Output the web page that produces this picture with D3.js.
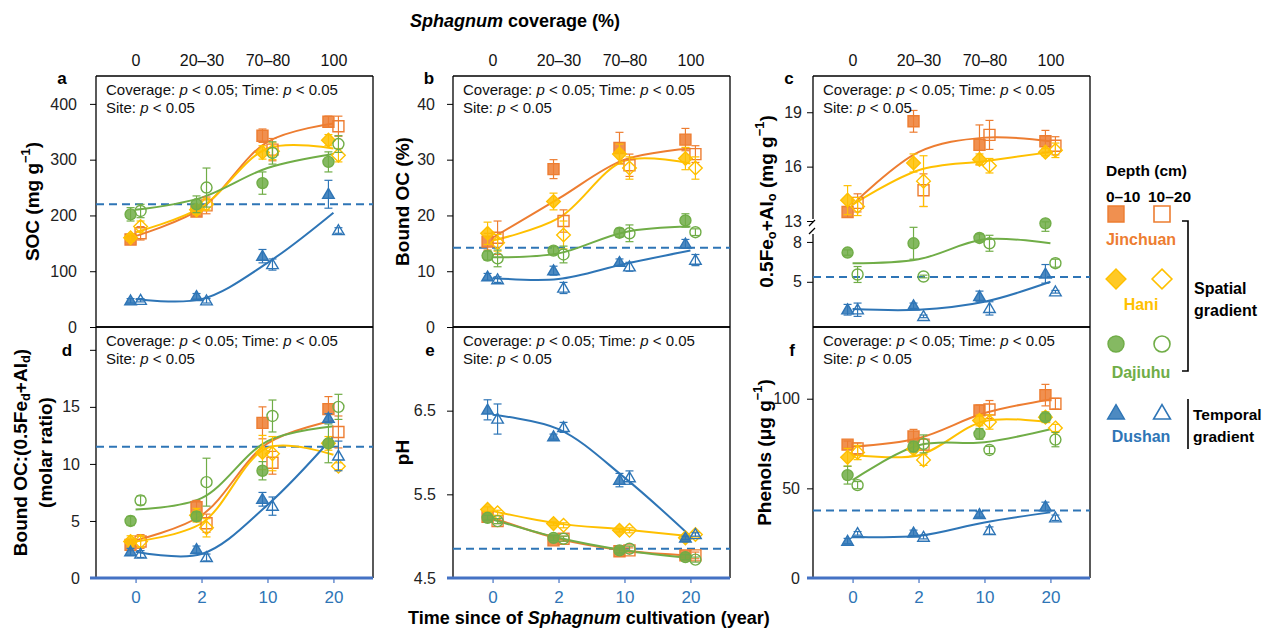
<!DOCTYPE html>
<html>
<head>
<meta charset="utf-8">
<script src="https://cdn.jsdelivr.net/npm/d3@7"></script>
<style>
  body { margin: 0; background: #fff; }
  svg { font-family: Arial, "Liberation Sans", sans-serif; }
</style>
</head>
<body>
<svg id="chart" width="1266" height="629"></svg>
<script>
// ---- data (rows follow `sites`, columns follow the 4 categories) ----
const coverageLabels = ['0', '20–30', '70–80', '100'];
const timeLabels = ['0', '2', '10', '20'];
const sites = ['Jinchuan', 'Hani', 'Dajiuhu', 'Dushan'];

// a: SOC (mg g-1)
const socTop = [[157, 207, 343, 368], [160, 210, 313, 335], [202, 220, 258, 296], [47, 55, 127, 238]];
const socTopErr = [[6, 8, 12, 10], [6, 8, 12, 10], [12, 15, 20, 18], [4, 5, 12, 25]];
const socSub = [[168, 218, 318, 360], [180, 220, 315, 308], [208, 250, 312, 328], [48, 47, 112, 173]];
const socSubErr = [[12, 15, 20, 18], [10, 10, 15, 12], [12, 35, 20, 15], [3, 4, 10, 5]];
const socFit = [[163, 213, 332, 365], [170, 215, 320, 320], [210, 232, 285, 310], [50, 50, 115, 205]];
const socRef = 220;

// b: Bound OC (%)
const bocTop = [[15.3, 28.3, 32.1, 33.6], [16.8, 22.5, 31, 30.2], [12.8, 13.7, 16.9, 19.1], [9, 10.1, 11.6, 14.9]];
const bocTopErr = [[1.5, 1.7, 2.8, 2], [2, 1.5, 1.8, 2], [0.8, 0.7, 0.8, 1.2], [0.6, 0.8, 0.6, 0.8]];
const bocSub = [[16, 19, 29, 31], [15.1, 16.5, 28.5, 28.5], [12.3, 13, 16.8, 17], [8.5, 7, 10.8, 12]];
const bocSubErr = [[3, 2, 2, 1.5], [1.5, 2.5, 2, 2], [1.5, 1.5, 1.5, 0.6], [0.5, 1, 0.8, 1]];
const bocFit = [[16, 23, 30, 32], [15.5, 19.5, 29.8, 29.3], [12.5, 13.2, 17, 18], [8.8, 8.6, 11.3, 13.7]];
const bocRef = 14.2;

// c: 0.5Feo+Alo (mg g-1)
const feTop = [[13.5, 18.5, 17.2, 17.4], [14.15, 16.2, 16.4, 16.8], [7.2, 7.9, 8.3, 9.4], [2.9, 3.2, 3.9, 5.6]];
const feTopErr = [[0.3, 0.6, 1.1, 0.6], [0.8, 0.5, 0.3, 0.2], [0.2, 1.2, 0.3, 0.6], [0.4, 0.2, 0.4, 0.7]];
const feSub = [[14, 14.7, 17.75, 17.15], [13.8, 15.2, 16.05, 16.9], [5.55, 5.4, 7.9, 6.4], [2.9, 2.4, 3.0, 4.25]];
const feSubErr = [[0.5, 0.9, 0.8, 0.5], [0.5, 1.4, 0.4, 0.4], [0.6, 0.1, 0.6, 0.3], [0.5, 0.1, 0.5, 0.1]];
const feFit = [[13.9, 16.8, 17.6, 17.4], [13.9, 15.8, 16.3, 16.8], [6.4, 6.7, 8.2, 7.9], [2.95, 2.9, 3.5, 5]];
const feRef = 5.37;

// d: Bound OC:(0.5Fed+Ald) molar ratio
const ratioTop = [[2.9, 6.2, 13.6, 14.8], [3.2, 5.5, 11.0, 11.8], [5.0, 5.4, 9.4, 11.8], [2.3, 2.5, 6.9, 14.0]];
const ratioTopErr = [[0.5, 0.6, 1.4, 1.1], [0.5, 0.6, 1.5, 0.6], [0.4, 0.4, 0.8, 1.7], [0.3, 0.3, 0.6, 0.4]];
const ratioSub = [[3.2, 4.8, 10.1, 12.8], [3.2, 4.4, 10.9, 9.8], [6.8, 8.4, 14.2, 15.0], [2.1, 1.8, 6.3, 10.7]];
const ratioSubErr = [[0.6, 0.8, 1, 1.4], [0.5, 0.8, 1.5, 0.3], [0.4, 2.1, 1.4, 1.1], [0.3, 0.3, 0.8, 1.3]];
const ratioFit = [[3.3, 5.5, 11.8, 13.8], [3.2, 4.8, 11.4, 10.8], [6, 7, 12, 13.3], [2.3, 2.1, 6.4, 12.4]];
const ratioRef = 11.5;

// e: pH
const phTop = [[5.23, 4.95, 4.82, 4.77], [5.32, 5.15, 5.07, 4.98], [5.22, 4.98, 4.83, 4.75], [6.51, 6.19, 5.67, 4.98]];
const phTopErr = [[0.03, 0.03, 0.03, 0.03], [0.03, 0.02, 0.02, 0.02], [0.03, 0.03, 0.03, 0.03], [0.12, 0.03, 0.08, 0.02]];
const phSub = [[5.18, 4.97, 4.83, 4.77], [5.28, 5.13, 5.07, 5.02], [5.18, 4.97, 4.85, 4.72], [6.4, 6.3, 5.7, 5.02]];
const phSubErr = [[0.03, 0.03, 0.03, 0.04], [0.03, 0.03, 0.03, 0.03], [0.03, 0.03, 0.03, 0.03], [0.18, 0.06, 0.08, 0.02]];
const phFit = [[5.22, 4.97, 4.83, 4.77], [5.3, 5.15, 5.08, 5.0], [5.2, 4.98, 4.83, 4.74], [6.45, 6.28, 5.7, 5.0]];
const phRef = 4.85;

// f: Phenols (ug g-1)
const phenTop = [[74.4, 78.9, 93.5, 102], [67.3, 72, 87.9, 89.7], [57.4, 73.3, 80.4, 89.7], [20.6, 25.2, 35.5, 39.8]];
const phenTopErr = [[2, 4, 3, 6], [5, 4, 3, 3], [5, 3, 3, 2], [1.5, 1.5, 1.5, 2.5]];
const phenSub = [[72.3, 74.4, 94, 97.2], [70, 65.8, 87, 83.7], [51.8, 74.8, 71.4, 77.2], [24.9, 22.8, 26.5, 33.6]];
const phenSubErr = [[3, 3, 5, 3], [4, 3, 4, 2], [2, 5, 2, 4], [1, 1, 2, 1.5]];
const phenFit = [[73.3, 78, 92, 99.6], [68.8, 68.5, 87.5, 86.8], [54.6, 74, 75.7, 83], [23, 23.5, 31, 36.6]];
const phenRef = 37.7;

// ---- styles ----
const siteColor = { Jinchuan: '#ED7D31', Hani: '#FFC000', Dajiuhu: '#70AD47', Dushan: '#2E75B6' };
const siteShape = { Jinchuan: 'square', Hani: 'diamond', Dajiuhu: 'circle', Dushan: 'triangle' };
const refColor = '#2E75B6';
const axisBlue = '#4472C4';
const fontFam = 'Arial, "Liberation Sans", sans-serif';

const svg = d3.select('#chart');
const W = 277, H = 251;
const colX = [96, 453, 813];
const rowY = [76, 327];

const x = d3.scalePoint().domain(timeLabels).range([0, W]).padding(0.6);
const shift = { top: -5, sub: 5 };

function symbolPath(shape, s) {
  // s ~ nominal marker width in px
  if (shape === 'square') return d3.symbol(d3.symbolSquare, s * s)();
  if (shape === 'circle') return d3.symbol(d3.symbolCircle, Math.PI * (s / 2) * (s / 2))();
  if (shape === 'diamond') {
    const h = s * 0.62;
    return `M0,${-h}L${h},0L0,${h}L${-h},0Z`;
  }
  const h = s * 0.5;
  return `M0,${-h * 1.05}L${h * 1.05},${h * 0.75}L${-h * 1.05},${h * 0.75}Z`;
}

function richText(sel, parts) {
  parts.forEach(p => {
    if (p.sup) sel.append('tspan').attr('dy', -7).attr('font-size', '0.68em').text(p.t);
    else if (p.sub) sel.append('tspan').attr('dy', 5).attr('font-size', '0.68em').text(p.t);
    else sel.append('tspan').attr('dy', p.back || 0).text(p.t);
  });
}

const panels = [
  { id: 'a', col: 0, row: 0, top: socTop, topErr: socTopErr, sub: socSub, subErr: socSubErr, fit: socFit, ref: socRef,
    domain: [0, 450], ticks: [0, 100, 200, 300, 400], letter: [62, 84], pad: 13,
    title: [[{ t: 'SOC (mg g' }, { t: '−1', sup: true }, { t: ')', back: 7 }]], titleX: [34] },
  { id: 'b', col: 1, row: 0, top: bocTop, topErr: bocTopErr, sub: bocSub, subErr: bocSubErr, fit: bocFit, ref: bocRef,
    domain: [0, 45], ticks: [0, 10, 20, 30, 40], letter: [429, 84], pad: 12,
    title: [[{ t: 'Bound OC (%)' }]], titleX: [404] },
  { id: 'c', col: 2, row: 0, top: feTop, topErr: feTopErr, sub: feSub, subErr: feSubErr, fit: feFit, ref: feRef,
    domain: [1.6, 9.5, 13, 21], ticks: [5, 8, 13, 16, 19], letter: [789, 84], broken: true, pad: 5,
    title: [[{ t: '0.5Fe' }, { t: 'o', sub: true }, { t: '+Al', back: -5 }, { t: 'o', sub: true }, { t: ' (mg g', back: -5 }, { t: '−1', sup: true }, { t: ')', back: 7 }]], titleX: [768] },
  { id: 'd', col: 0, row: 1, top: ratioTop, topErr: ratioTopErr, sub: ratioSub, subErr: ratioSubErr, fit: ratioFit, ref: ratioRef,
    domain: [0, 22], ticks: [0, 5, 10, 15, 20], hideTick: 20, letter: [67, 356], pad: 10,
    title: [[{ t: 'Bound OC:(0.5Fe' }, { t: 'd', sub: true }, { t: '+Al', back: -5 }, { t: 'd', sub: true }, { t: ')', back: -5 }], [{ t: '(molar ratio)' }]], titleX: [22, 47] },
  { id: 'e', col: 1, row: 1, top: phTop, topErr: phTopErr, sub: phSub, subErr: phSubErr, fit: phFit, ref: phRef,
    domain: [4.5, 7.5], ticks: [4.5, 5.5, 6.5], letter: [430, 356], pad: 11,
    title: [[{ t: 'pH' }]], titleX: [404] },
  { id: 'f', col: 2, row: 1, top: phenTop, topErr: phenTopErr, sub: phenSub, subErr: phenSubErr, fit: phenFit, ref: phenRef,
    domain: [0, 140], ticks: [0, 50, 100], letter: [792, 356], pad: 7,
    title: [[{ t: 'Phenols (μg g' }, { t: '−1', sup: true }, { t: ')', back: 7 }]], titleX: [766] }
];

panels.forEach(p => {
  const ox = colX[p.col], oy = rowY[p.row];
  const g = svg.append('g').attr('transform', `translate(${ox},${oy})`);

  const y = p.broken
    ? d3.scaleLinear().domain(p.domain).range([H, H - 105, H - 106, 0])
    : d3.scaleLinear().domain(p.domain).range([H, 0]);

  // frame
  g.append('line').attr('x1', 0).attr('x2', W).attr('y1', 0).attr('y2', 0).attr('stroke', '#000').attr('stroke-width', 1.3);
  g.append('line').attr('x1', W).attr('x2', W).attr('y1', 0).attr('y2', H).attr('stroke', '#000').attr('stroke-width', 1.3);
  if (p.broken) {
    g.append('line').attr('x1', 0).attr('x2', 0).attr('y1', 0).attr('y2', 143).attr('stroke', '#000').attr('stroke-width', 1.3);
    g.append('line').attr('x1', 0).attr('x2', 0).attr('y1', 158).attr('y2', H).attr('stroke', '#000').attr('stroke-width', 1.3);
    [147, 155].forEach(by => {
      g.append('line').attr('x1', -4).attr('x2', 2).attr('y1', by + 3).attr('y2', by - 3)
        .attr('stroke', '#000').attr('stroke-width', 1.2);
    });
  } else {
    g.append('line').attr('x1', 0).attr('x2', 0).attr('y1', 0).attr('y2', H).attr('stroke', '#000').attr('stroke-width', 1.3);
  }
  if (p.row === 0) {
    g.append('line').attr('x1', 0).attr('x2', W).attr('y1', H).attr('y2', H).attr('stroke', '#000').attr('stroke-width', 1.3);
  }

  // left axis
  const yAxis = g.append('g')
    .call(d3.axisLeft(y).tickValues(p.ticks).tickSize(6).tickPadding(p.pad)
      .tickFormat(d => d === p.hideTick ? '' : d));
  yAxis.select('.domain').remove();
  yAxis.selectAll('.tick line').attr('stroke', '#000');
  yAxis.selectAll('.tick text').attr('font-size', 16).attr('fill', '#222').attr('font-family', fontFam);

  // bottom / top category axes
  if (p.row === 1) {
    const xAxis = g.append('g').attr('transform', `translate(0,${H})`)
      .call(d3.axisBottom(x).tickSize(5).tickPadding(8));
    xAxis.select('.domain').remove();
    xAxis.selectAll('.tick line').attr('stroke', axisBlue).attr('stroke-width', 1.2);
    xAxis.selectAll('.tick text').attr('font-size', 17).attr('fill', '#2E75B6').attr('font-family', fontFam);
    g.append('line').attr('x1', -6).attr('x2', W).attr('y1', H).attr('y2', H)
      .attr('stroke', axisBlue).attr('stroke-width', 3);
  } else {
    const topAxis = g.append('g')
      .call(d3.axisTop(x).tickSize(0).tickPadding(10).tickFormat((d, i) => coverageLabels[i]));
    topAxis.select('.domain').remove();
    topAxis.selectAll('.tick text').attr('font-size', 16).attr('fill', '#111').attr('font-family', fontFam);
  }

  // reference dashed line
  g.append('line').attr('x1', 0).attr('x2', W).attr('y1', y(p.ref)).attr('y2', y(p.ref))
    .attr('stroke', refColor).attr('stroke-width', 2).attr('stroke-dasharray', '8,5');

  // fitted curves
  const line = d3.line().x((d, j) => x(timeLabels[j])).y(d => y(d)).curve(d3.curveCatmullRom.alpha(0.5));
  sites.forEach((s, i) => {
    g.append('path').datum(p.fit[i]).attr('d', line)
      .attr('fill', 'none').attr('stroke', siteColor[s]).attr('stroke-width', 2);
  });

  // error bars + markers
  sites.forEach((s, i) => {
    [['top', p.top[i], p.topErr[i]], ['sub', p.sub[i], p.subErr[i]]].forEach(([depth, vals, errs]) => {
      const grp = g.append('g').attr('class', `${s}-${depth}`);
      vals.forEach((v, j) => {
        const cx = x(timeLabels[j]) + shift[depth];
        const y1 = y(v - errs[j]), y2 = y(v + errs[j]);
        grp.append('line').attr('x1', cx).attr('x2', cx).attr('y1', y1).attr('y2', y2)
          .attr('stroke', siteColor[s]).attr('stroke-width', 1.2);
        [y1, y2].forEach(yy => grp.append('line').attr('x1', cx - 4).attr('x2', cx + 4).attr('y1', yy).attr('y2', yy)
          .attr('stroke', siteColor[s]).attr('stroke-width', 1.2));
        grp.append('path').attr('d', symbolPath(siteShape[s], 11))
          .attr('transform', `translate(${cx},${y(v)})`)
          .attr('fill', depth === 'top' ? siteColor[s] : 'none')
          .attr('fill-opacity', 0.85)
          .attr('stroke', siteColor[s]).attr('stroke-width', 1.4);
      });
    });
  });

  // annotation
  const ann = [
    [{ t: 'Coverage: ' }, { t: 'p', i: true }, { t: ' < 0.05; Time: ' }, { t: 'p', i: true }, { t: ' < 0.05' }],
    [{ t: 'Site: ' }, { t: 'p', i: true }, { t: ' < 0.05' }]
  ];
  ann.forEach((parts, k) => {
    const t = g.append('text').attr('x', 10).attr('y', 19 + k * 18).attr('font-size', 15).attr('fill', '#111');
    parts.forEach(pt => t.append('tspan').attr('font-style', pt.i ? 'italic' : 'normal').text(pt.t));
  });

  // panel letter
  svg.append('text').attr('x', p.letter[0]).attr('y', p.letter[1]).attr('text-anchor', 'middle')
    .attr('font-size', 17).attr('font-weight', 'bold').text(p.id);

  // y title(s)
  p.title.forEach((parts, k) => {
    const t = svg.append('text')
      .attr('transform', `translate(${p.titleX[k]},${oy + H / 2}) rotate(-90)`)
      .attr('text-anchor', 'middle').attr('dominant-baseline', 'middle')
      .attr('font-size', 19).attr('font-weight', 'bold').attr('fill', '#000');
    richText(t, parts);
  });
});

// global titles
const topTitle = svg.append('text').attr('x', 515).attr('y', 27).attr('text-anchor', 'middle')
  .attr('font-size', 18).attr('font-weight', 'bold');
topTitle.append('tspan').attr('font-style', 'italic').text('Sphagnum');
topTitle.append('tspan').text(' coverage (%)');

const botTitle = svg.append('text').attr('x', 589).attr('y', 624).attr('text-anchor', 'middle')
  .attr('font-size', 18).attr('font-weight', 'bold');
botTitle.append('tspan').text('Time since of ');
botTitle.append('tspan').attr('font-style', 'italic').text('Sphagnum');
botTitle.append('tspan').text(' cultivation (year)');

// ---- legend ----
const leg = svg.append('g');
leg.append('text').attr('x', 1106).attr('y', 176).attr('font-size', 15.5).attr('font-weight', 'bold').text('Depth (cm)');
leg.append('text').attr('x', 1106).attr('y', 202).attr('font-size', 15.5).attr('font-weight', 'bold').text('0–10');
leg.append('text').attr('x', 1148).attr('y', 202).attr('font-size', 15.5).attr('font-weight', 'bold').text('10–20');

const legRowY = [214, 279, 344, 413];
const legLabelY = [245, 310, 378, 442];
sites.forEach((s, i) => {
  leg.append('path').attr('d', symbolPath(siteShape[s], 16))
    .attr('transform', `translate(1116,${legRowY[i]})`)
    .attr('fill', siteColor[s]).attr('fill-opacity', 0.85).attr('stroke', siteColor[s]).attr('stroke-width', 1.4);
  leg.append('path').attr('d', symbolPath(siteShape[s], 16))
    .attr('transform', `translate(1162,${legRowY[i]})`)
    .attr('fill', 'none').attr('stroke', siteColor[s]).attr('stroke-width', 1.6);
  leg.append('text').attr('x', 1141).attr('y', legLabelY[i]).attr('text-anchor', 'middle')
    .attr('font-size', 16).attr('font-weight', 'bold').attr('fill', siteColor[s]).text(s);
});

// brackets
leg.append('path').attr('d', 'M1182,221H1188V371H1182').attr('fill', 'none').attr('stroke', '#000').attr('stroke-width', 1.6);
leg.append('line').attr('x1', 1188).attr('x2', 1188).attr('y1', 399).attr('y2', 449).attr('stroke', '#000').attr('stroke-width', 1.6);
[['Spatial', 294], ['gradient', 316]].forEach(([t, yy]) => leg.append('text').attr('x', 1194).attr('y', yy)
  .attr('font-size', 16).attr('font-weight', 'bold').text(t));
[['Temporal', 420], ['gradient', 442]].forEach(([t, yy]) => leg.append('text').attr('x', 1193).attr('y', yy)
  .attr('font-size', 15.5).attr('font-weight', 'bold').text(t));
</script>
</body>
</html>
